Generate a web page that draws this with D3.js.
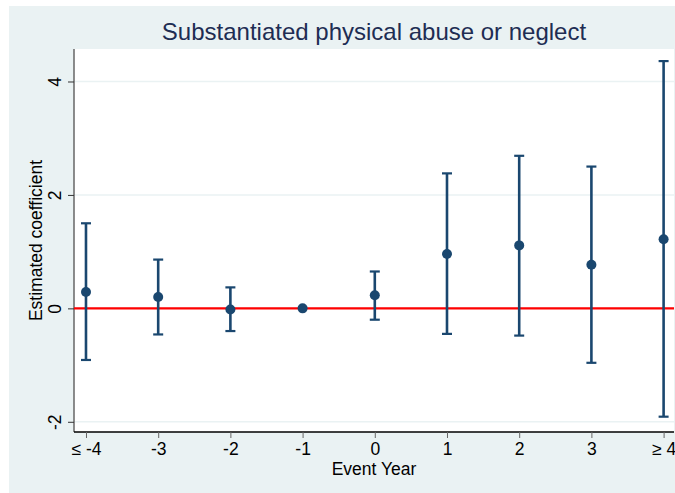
<!DOCTYPE html>
<html><head><meta charset="utf-8">
<script src="https://cdn.jsdelivr.net/npm/d3@7"></script>
<style>body{margin:0;background:#fff}svg{display:block}text{font-family:"Liberation Sans",Arial,sans-serif}</style>
</head><body>
<svg id="c" width="675" height="493"></svg>
<script>
const eventYears = [-4, -3, -2, -1, 0, 1, 2, 3, 4];
const tickLabels = ["\u2264 -4", "-3", "-2", "-1", "0", "1", "2", "3", "\u2265 4"];
const coef  = [0.29, 0.20, -0.02, 0.00, 0.23, 0.96, 1.11, 0.77, 1.22];
const ciLow = [-0.91, -0.46, -0.40, 0.00, -0.20, -0.45, -0.48, -0.96, -1.91];
const ciHigh= [1.50, 0.86, 0.37, 0.00, 0.65, 2.38, 2.69, 2.50, 4.36];
const yTicks = [-2, 0, 2, 4];
const yTickLabels = ["-2", "0", "2", "4"];

const svg = d3.select("#c");
const L = 74, R = 674, T = 49, B = 432;
const navy = "#1a476f";
const fs = 17.5;

svg.append("rect").attr("x", 9).attr("y", 6).attr("width", 666).attr("height", 487).attr("fill", "#eaf2f3");
svg.append("rect").attr("x", L).attr("y", T).attr("width", R - L).attr("height", B - T).attr("fill", "#fff");

const x = d3.scaleLinear().domain([-4.166, 4.144]).range([L, R]);
const y = d3.scaleLinear().domain([-2.18, 4.573]).range([B, T]);

// gridlines
svg.append("g").selectAll("line").data(yTicks).join("line")
  .attr("x1", L).attr("x2", R).attr("y1", d => y(d)).attr("y2", d => y(d))
  .attr("stroke", "#eaf2f3").attr("stroke-width", 1.5);

// y axis
const ya = svg.append("g").attr("transform", `translate(${L},0)`)
  .call(d3.axisLeft(y).tickValues(yTicks).tickSize(6).tickFormat((d, i) => yTickLabels[i]));
ya.select(".domain").attr("stroke", "#666").attr("stroke-width", 1.5).attr("d", `M0,${T}V${B}`);
ya.selectAll(".tick line").attr("stroke", "#333");
ya.selectAll(".tick text").attr("font-size", fs).attr("fill", "#000")
  .attr("x", 0).attr("y", 0).attr("dy", 0).attr("text-anchor", "middle")
  .attr("transform", "translate(-13,0) rotate(-90)");

// x axis
const xa = svg.append("g").attr("transform", `translate(0,${B})`)
  .call(d3.axisBottom(x).tickValues(eventYears).tickSize(6).tickFormat((d, i) => tickLabels[i]));
xa.select(".domain").attr("stroke", "#000").attr("stroke-width", 1.5).attr("d", `M${L},0H${R}`);
xa.selectAll(".tick line").attr("stroke", "#666");
xa.selectAll(".tick text").attr("font-size", fs).attr("fill", "#000").attr("y", 23).attr("dy", 0);

// zero line
svg.append("line").attr("x1", L).attr("x2", R).attr("y1", y(0)).attr("y2", y(0))
  .attr("stroke", "#ff0000").attr("stroke-width", 2.2);

// error bars
const idx = d3.range(eventYears.length);
const g = svg.append("g");
const withCI = idx.filter(i => ciHigh[i] !== ciLow[i]);
g.selectAll("line.v").data(withCI).join("line")
  .attr("x1", i => x(eventYears[i])).attr("x2", i => x(eventYears[i]))
  .attr("y1", i => y(ciLow[i])).attr("y2", i => y(ciHigh[i]))
  .attr("stroke", navy).attr("stroke-width", 2.6);
[ciLow, ciHigh].forEach(arr => {
  g.append("g").selectAll("line").data(withCI).join("line")
    .attr("x1", i => x(eventYears[i]) - 5).attr("x2", i => x(eventYears[i]) + 5)
    .attr("y1", i => y(arr[i])).attr("y2", i => y(arr[i]))
    .attr("stroke", navy).attr("stroke-width", 2.2);
});
g.append("g").selectAll("circle").data(idx).join("circle")
  .attr("cx", i => x(eventYears[i])).attr("cy", i => y(coef[i])).attr("r", 5)
  .attr("fill", navy);

// titles
svg.append("text").attr("x", (L + R) / 2).attr("y", 40).attr("text-anchor", "middle")
  .attr("font-size", 24).attr("fill", "#1e2d53").text("Substantiated physical abuse or neglect");
svg.append("text").attr("x", (L + R) / 2).attr("y", 475).attr("text-anchor", "middle")
  .attr("font-size", fs).attr("fill", "#000").text("Event Year");
svg.append("text").attr("transform", `translate(42,${(T + B) / 2}) rotate(-90)`).attr("text-anchor", "middle")
  .attr("font-size", fs).attr("fill", "#000").text("Estimated coefficient");
</script>
</body></html>
